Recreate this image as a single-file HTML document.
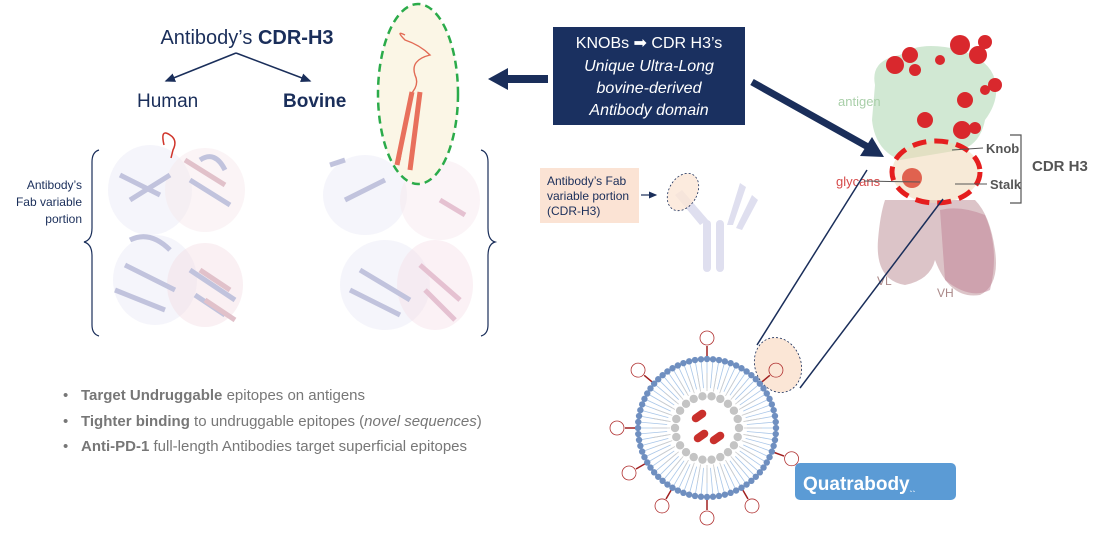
<!DOCTYPE html>
<html><head><meta charset="utf-8"><style>
html,body{margin:0;padding:0;background:#fff;}
svg{display:block;font-family:"Liberation Sans",sans-serif;}
</style></head><body>
<svg id="s" width="1100" height="536" viewBox="0 0 1100 536" xmlns="http://www.w3.org/2000/svg">
<defs>
<marker id="ah" markerWidth="8" markerHeight="8" refX="6" refY="4" orient="auto"><path d="M0,1 L7,4 L0,7 z" fill="#1a2e5a"/></marker>
</defs>
<text x="247" y="44" font-size="20" fill="#1a2e5a" text-anchor="middle">Antibody’s <tspan font-weight="bold">CDR-H3</tspan></text>
<line x1="236" y1="53" x2="166" y2="81" stroke="#1a2e5a" stroke-width="1.5" marker-end="url(#ah)"/>
<line x1="236" y1="53" x2="310" y2="81" stroke="#1a2e5a" stroke-width="1.5" marker-end="url(#ah)"/>
<text x="137" y="107" font-size="19" fill="#1a2e5a">Human</text>
<text x="283" y="107" font-size="19" font-weight="bold" fill="#1a2e5a">Bovine</text>

<path d="M99,150 Q92,152 92,162 L92,228 Q92,240 84,242 Q92,244 92,256 L92,325 Q92,334 99,336" fill="none" stroke="#1a2e5a" stroke-width="1.2"/>
<text font-size="12" fill="#1a2e5a" text-anchor="end"><tspan x="82" y="189">Antibody’s</tspan><tspan x="82" y="206">Fab variable</tspan><tspan x="82" y="223">portion</tspan></text>
<path d="M481,150 Q488,152 488,162 L488,228 Q488,240 495,242 Q488,244 488,256 L488,325 Q488,334 481,336" fill="none" stroke="#1a2e5a" stroke-width="1.2"/>

<g opacity="0.55">
<ellipse cx="150" cy="190" rx="42" ry="45" fill="#dcdcef" opacity="0.5"/>
<ellipse cx="205" cy="190" rx="40" ry="42" fill="#f0d8de" opacity="0.5"/>
<ellipse cx="155" cy="280" rx="42" ry="45" fill="#dcdcef" opacity="0.5"/>
<ellipse cx="205" cy="285" rx="38" ry="42" fill="#ecc8d3" opacity="0.5"/>
<path d="M120,175 L160,195 M130,200 L170,175 M115,290 L165,310 M125,265 L175,290 M190,270 L235,300 M195,295 L225,315 M190,180 L230,205 M130,240 Q150,230 170,250 M200,160 Q215,150 225,170" stroke="#8f93c2" stroke-width="5" fill="none"/>
<path d="M200,270 L230,290 M205,300 L235,320 M185,160 L225,185" stroke="#c98fa0" stroke-width="5" fill="none"/>
</g>
<path d="M164,145 Q160,128 170,135 Q178,140 173,150 L171,158" fill="none" stroke="#d0352b" stroke-width="1.5"/>

<g opacity="0.55">
<ellipse cx="365" cy="195" rx="42" ry="40" fill="#dcdcef" opacity="0.5"/>
<ellipse cx="440" cy="200" rx="40" ry="40" fill="#f2d8e2" opacity="0.5"/>
<ellipse cx="385" cy="285" rx="45" ry="45" fill="#dcdcef" opacity="0.5"/>
<ellipse cx="435" cy="285" rx="38" ry="45" fill="#efcbd9" opacity="0.5"/>
<path d="M345,200 L385,180 M350,290 L400,315 M360,270 L410,300 M330,165 L345,160" stroke="#8f93c2" stroke-width="5" fill="none"/>
<path d="M420,265 L460,300 M425,290 L455,320 M440,200 L465,215" stroke="#d08fad" stroke-width="5" fill="none"/>
</g>
<ellipse cx="418" cy="94" rx="40" ry="90" fill="#fbf6e6" stroke="#2bab4a" stroke-width="2.5" stroke-dasharray="8,5"/>
<path d="M405,35 Q395,30 405,40 Q420,45 430,55 Q410,60 415,75 Q420,85 410,95 L400,160 M418,95 L412,165" fill="none" stroke="#e26b55" stroke-width="1.4"/>
<path d="M412,92 L397,165 M420,92 L410,170" stroke="#e8705c" stroke-width="5"/>

<line x1="548" y1="79" x2="505" y2="79" stroke="#1a2e5a" stroke-width="8"/>
<path d="M488,79 L508,68 L508,90 z" fill="#1a2e5a"/>

<rect x="553" y="27" width="192" height="98" fill="#1a3060"/>
<text fill="#fff" font-size="16" text-anchor="middle"><tspan x="649" y="48">KNOBs ➡ CDR H3’s</tspan><tspan x="649" y="71" font-style="italic">Unique Ultra-Long</tspan><tspan x="649" y="93" font-style="italic">bovine-derived</tspan><tspan x="649" y="115" font-style="italic">Antibody domain</tspan></text>
<line x1="752" y1="82" x2="868" y2="147" stroke="#1a2e5a" stroke-width="7"/>
<path d="M884,157 L860,156 L872,137 z" fill="#1a2e5a"/>

<rect x="540" y="168" width="99" height="55" fill="#fbe3d4"/>
<text font-size="12" fill="#1a2e5a"><tspan x="547" y="185">Antibody’s Fab</tspan><tspan x="547" y="200">variable portion</tspan><tspan x="547" y="215">(CDR-H3)</tspan></text>
<line x1="641" y1="195" x2="656" y2="195" stroke="#1a2e5a" stroke-width="1.2" marker-end="url(#ah)"/>
<g fill="#dcdcee" opacity="0.9">
<rect x="703" y="220" width="8" height="52" rx="4"/>
<rect x="716" y="220" width="8" height="52" rx="4"/>
<path d="M700,225 L675,195 L682,190 L708,220 z"/>
<path d="M727,225 L740,183 L746,187 L733,225 z"/>
<path d="M736,228 L752,195 L758,200 L742,230 z"/>
</g>
<ellipse cx="683" cy="192" rx="14" ry="20" transform="rotate(30 683 192)" fill="#fbe6d6" fill-opacity="0.8" stroke="#1a2e5a" stroke-width="0.8" stroke-dasharray="2,2"/>

<g opacity="0.8">
<path d="M875,85 Q870,60 900,55 Q920,40 960,50 Q990,60 995,80 Q1000,100 985,120 Q980,145 960,150 L900,160 Q875,150 872,120 z" fill="#b8dcbc" opacity="0.8"/>
<path d="M885,200 Q880,215 878,240 Q875,280 905,285 Q930,280 935,260 Q950,300 980,295 Q1000,285 995,250 Q990,215 975,200 z" fill="#b8868d" opacity="0.6"/>
<path d="M940,210 Q960,205 985,215 Q1000,250 990,290 Q970,300 945,280 z" fill="#b0607a" opacity="0.5"/>
</g>
<g fill="#d9282d">
<circle cx="895" cy="65" r="9"/><circle cx="910" cy="55" r="8"/><circle cx="915" cy="70" r="6"/>
<circle cx="960" cy="45" r="10"/><circle cx="978" cy="55" r="9"/><circle cx="985" cy="42" r="7"/>
<circle cx="940" cy="60" r="5"/><circle cx="995" cy="85" r="7"/><circle cx="985" cy="90" r="5"/>
<circle cx="925" cy="120" r="8"/><circle cx="965" cy="100" r="8"/><circle cx="962" cy="130" r="9"/><circle cx="975" cy="128" r="6"/>
</g>
<ellipse cx="936" cy="172" rx="44" ry="31" fill="#f0d9b6" fill-opacity="0.55" stroke="#e51e1e" stroke-width="5" stroke-dasharray="14,8"/>
<circle cx="912" cy="178" r="10" fill="#d9402d" opacity="0.8"/>
<text x="838" y="106" font-size="13" fill="#a9cfa9">antigen</text>
<text x="836" y="186" font-size="13" fill="#d64a4a">glycans</text>
<line x1="864" y1="181" x2="920" y2="182" stroke="#555" stroke-width="1"/>
<line x1="952" y1="150" x2="983" y2="148" stroke="#555" stroke-width="1"/>
<line x1="955" y1="184" x2="987" y2="184" stroke="#555" stroke-width="1"/>
<text x="986" y="153" font-size="13" font-weight="bold" fill="#555">Knob</text>
<text x="990" y="189" font-size="13" font-weight="bold" fill="#555">Stalk</text>
<path d="M1010,135 L1021,135 L1021,203 L1010,203" fill="none" stroke="#555" stroke-width="1.2"/>
<text x="1032" y="171" font-size="15" font-weight="bold" fill="#555">CDR H3</text>
<text x="877" y="285" font-size="12" fill="#a88">VL</text>
<text x="937" y="297" font-size="12" fill="#a88">VH</text>

<line x1="757" y1="345" x2="867" y2="170" stroke="#1a2e5a" stroke-width="1.5"/>
<line x1="800" y1="388" x2="943" y2="199" stroke="#1a2e5a" stroke-width="1.5"/>
<ellipse cx="778" cy="365" rx="23" ry="28" transform="rotate(-20 778 365)" fill="#fbe6d6" stroke="#1a2e5a" stroke-width="0.8" stroke-dasharray="2,2"/>

<g id="lipo"></g>

<rect x="795" y="463" width="161" height="37" rx="5" fill="#5b9bd5"/>
<text x="803" y="490" font-size="19" font-weight="bold" fill="#fff">Quatrabody<tspan font-size="9">ˎˎ</tspan></text>

<g font-size="15" fill="#777">
<text x="63" y="400">•</text><text x="81" y="400"><tspan font-weight="bold">Target Undruggable</tspan> epitopes on antigens</text>
<text x="63" y="426">•</text><text x="81" y="426"><tspan font-weight="bold">Tighter binding</tspan> to undruggable epitopes (<tspan font-style="italic">novel sequences</tspan>)</text>
<text x="63" y="451">•</text><text x="81" y="451"><tspan font-weight="bold">Anti-PD-1</tspan> full-length Antibodies target superficial epitopes</text>
</g>
</svg>
<script>
var g=document.getElementById('lipo'),cx=707,cy=428,h='';
for(var i=0;i<72;i++){var a=i*Math.PI*2/72,c=Math.cos(a),s=Math.sin(a);
h+='<line x1="'+(cx+c*40)+'" y1="'+(cy+s*40)+'" x2="'+(cx+c*66)+'" y2="'+(cy+s*66)+'" stroke="#a9c6e8" stroke-width="0.8"/>';
h+='<circle cx="'+(cx+c*69)+'" cy="'+(cy+s*69)+'" r="3.2" fill="#6f8fc0"/>';}
for(var i=0;i<36;i++){var a=i*Math.PI*2/36,c=Math.cos(a),s=Math.sin(a);
h+='<line x1="'+(cx+c*37)+'" y1="'+(cy+s*37)+'" x2="'+(cx+c*55)+'" y2="'+(cy+s*55)+'" stroke="#ccc" stroke-width="0.8"/>';}
for(var i=0;i<22;i++){var a=i*Math.PI*2/22;h+='<circle cx="'+(cx+Math.cos(a)*32)+'" cy="'+(cy+Math.sin(a)*32)+'" r="4.2" fill="#c4c4c4"/>';}
[[-8,-12,-35],[-6,8,-35],[10,10,-35]].forEach(function(p){h+='<rect x="'+(cx+p[0]-8)+'" y="'+(cy+p[1]-4)+'" width="16" height="8" rx="4" fill="#c9302c" transform="rotate('+p[2]+' '+(cx+p[0])+' '+(cy+p[1])+')"/>';});
[-90,-40,-140,180,20,60,120,90,150].forEach(function(d){var a=d*Math.PI/180,c=Math.cos(a),s=Math.sin(a);
h+='<line x1="'+(cx+c*72)+'" y1="'+(cy+s*72)+'" x2="'+(cx+c*82)+'" y2="'+(cy+s*82)+'" stroke="#a02020" stroke-width="1.5"/>';
h+='<circle cx="'+(cx+c*90)+'" cy="'+(cy+s*90)+'" r="7" fill="none" stroke="#b03030" stroke-width="0.8"/>';});
g.innerHTML=h;
</script>
</body></html>
